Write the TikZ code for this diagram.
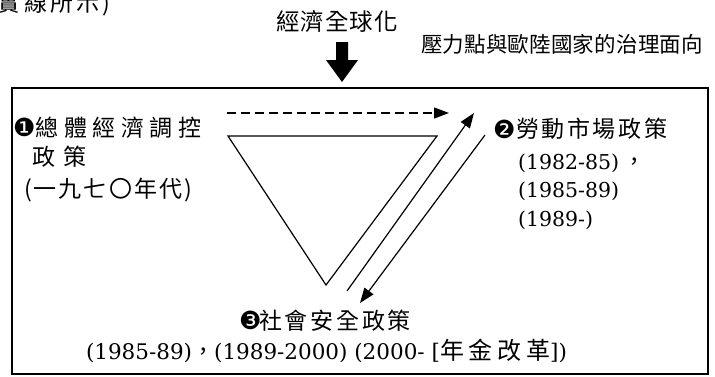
\documentclass[tikz,border=0pt]{standalone}
\usepackage{fontspec}
\setmainfont{DejaVu Serif}
\newfontfamily\cjkf{Noto Sans CJK TC}
\newfontfamily\symf{DejaVu Sans}
\usetikzlibrary{arrows.meta}
\newcommand\fsz[1]{\fontsize{#1}{#1}\selectfont}
\newcommand\gp{\hfill{}}
\begin{document}
\begin{tikzpicture}[x=1pt,y=-1pt,
  lbl/.style={inner sep=0pt, outer sep=0pt, anchor=base west},
  thinline/.style={line width=1.2pt},
  tipped/.style={-{Triangle[length=15pt,width=11pt]}}]
\useasboundingbox (0,0) rectangle (715,376);
\fill[white] (0,0) rectangle (715,376);
% cut-off caption at the top left
\node[lbl] (cut) at (-2,11) {\cjkf\fsz{23pt}\makebox[112pt][s]{實\gp 線\gp 所\gp 示\gp )}};
% title and header
\node[lbl] (title) at (276,30) {\cjkf\fsz{23.5pt}\makebox[122pt][s]{經\gp 濟\gp 全\gp 球\gp 化}};
\node[lbl] (head) at (421,52) {\cjkf\fsz{21.5pt}\makebox[282pt][s]{壓\gp 力\gp 點\gp 與\gp 歐\gp 陸\gp 國\gp 家\gp 的\gp 治\gp 理\gp 面\gp 向}};
% big arrow
\fill (336,42) -- (348,42) -- (348,60) -- (358,60) -- (342,82) -- (326,60) -- (336,60) -- cycle;
% frame
\draw[line width=1.7pt] (12,88) rectangle (708,374);
% left block
\node[lbl] (n1) at (13,136) {\symf\fsz{25pt}❶};
\node[lbl] (p1a) at (35.5,136) {\cjkf\fsz{23pt}\makebox[166pt][s]{總\gp 體\gp 經\gp 濟\gp 調\gp 控}};
\node[lbl] (p1b) at (32,165) {\cjkf\fsz{23pt}\makebox[55pt][s]{政\gp 策}};
\node[lbl] (p1c) at (24,197) {\cjkf\fsz{23pt}\makebox[168pt][s]{(\gp 一\gp 九\gp 七\gp 〇\gp 年\gp 代\gp )}};
% right block
\node[lbl] (n2) at (493,138) {\symf\fsz{25pt}❷};
\node[lbl] (p2a) at (516,137.5) {\cjkf\fsz{23pt}\makebox[151pt][s]{勞\gp 動\gp 市\gp 場\gp 政\gp 策}};
\node[lbl] (p2b) at (518,169) {\fsz{20.5pt}(1982-85){\cjkf\fsz{22pt}\hspace{4pt}，}};
\node[lbl] (p2c) at (518,197.5) {\fsz{20.5pt}(1985-89)};
\node[lbl] (p2d) at (518,226) {\fsz{20.5pt}(1989-)};
% bottom block
\node[lbl] (n3) at (239,329) {\symf\fsz{25pt}❸};
\node[lbl] (p3a) at (259,329.5) {\cjkf\fsz{23pt}\makebox[152pt][s]{社\gp 會\gp 安\gp 全\gp 政\gp 策}};
\node[lbl] (p3b) at (86,359) {\fsz{21.5pt}\makebox[481pt][s]{(1985-89){\cjkf\fsz{22pt}，}(1989-2000) (2000- [{\cjkf\fsz{24pt}年\hfil{}金\hfil{}改\hfil{}革}])}};
% triangle
\coordinate (ta) at (228,136);
\coordinate (tb) at (437,136);
\coordinate (tc) at (326,285);
\draw[thinline, line join=miter] (ta) -- (tb) -- (tc) -- cycle;
% dashed arrow
\coordinate (d1) at (227,113);
\coordinate (d2) at (449,113);
\draw[thinline, dash pattern=on 9pt off 5pt, tipped] (d1) -- (d2);
% up and down arrows
\coordinate (u1) at (347,291);
\coordinate (u2) at (474,113);
\draw[thinline, tipped] (u1) -- (u2);
\coordinate (v1) at (485,135);
\coordinate (v2) at (360,303);
\draw[thinline, tipped] (v1) -- (v2);
\end{tikzpicture}
\end{document}
